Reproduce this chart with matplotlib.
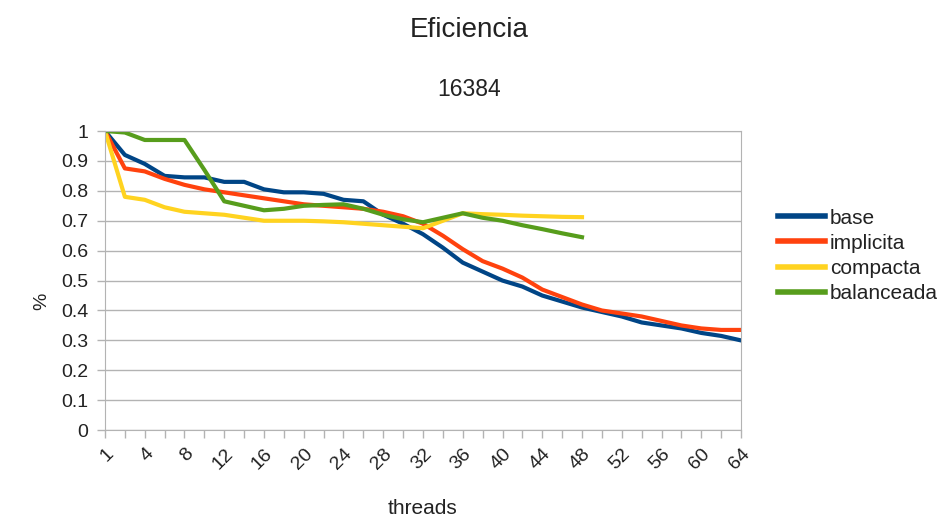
import matplotlib
matplotlib.use("Agg")
import matplotlib.pyplot as plt

plt.rcParams['font.family'] = ['Liberation Sans', 'DejaVu Sans']

# thread counts (categories) and efficiency per variant
threads = [1] + list(range(2, 65, 2))

base = [1.0, 0.92, 0.89, 0.85, 0.845, 0.845, 0.83, 0.83, 0.805, 0.795, 0.795,
        0.79, 0.77, 0.765, 0.72, 0.69, 0.655, 0.61, 0.56, 0.53, 0.50, 0.48,
        0.45, 0.43, 0.41, 0.395, 0.38, 0.36, 0.35, 0.34, 0.325, 0.315, 0.30]
implicita = [1.0, 0.875, 0.865, 0.84, 0.82, 0.805, 0.795, 0.785, 0.775, 0.765,
             0.755, 0.75, 0.745, 0.74, 0.73, 0.715, 0.69, 0.65, 0.605, 0.565,
             0.54, 0.51, 0.47, 0.445, 0.42, 0.40, 0.39, 0.38, 0.365, 0.35,
             0.34, 0.335, 0.335]
compacta = [1.0, 0.78, 0.77, 0.745, 0.73, 0.725, 0.72, 0.71, 0.70, 0.70, 0.70,
            0.698, 0.695, 0.69, 0.685, 0.68, 0.675, 0.70, 0.725, 0.722, 0.72,
            0.717, 0.715, 0.713, 0.712]
balanceada = [1.0, 0.995, 0.97, 0.97, 0.97, 0.87, 0.765, 0.75, 0.735, 0.74,
              0.75, 0.753, 0.755, 0.74, 0.72, 0.705, 0.695, 0.71, 0.725, 0.71,
              0.70, 0.685, 0.672, 0.658, 0.645]

series = [("base", base, "#004586"),
          ("implicita", implicita, "#ff420e"),
          ("compacta", compacta, "#ffd320"),
          ("balanceada", balanceada, "#579d1c")]

fig = plt.figure(figsize=(9.4, 5.17), dpi=100)
ax = fig.add_axes([0.1117, 0.168, 0.6766, 0.5786])

idx = list(range(len(threads)))
for name, vals, col in series:
    ax.plot(idx[:len(vals)], vals, color=col, lw=3, label=name,
            solid_joinstyle="round")

ax.set_xlim(0, len(threads) - 1)
ax.set_ylim(0, 1)
ax.set_yticks([i / 10 for i in range(11)])
ax.set_yticklabels(["0"] + [f"{i/10:g}" for i in range(1, 10)] + ["1"],
                   fontsize=14, color="#222222")
ax.set_xticks(idx)
ax.set_xticklabels([str(t) if i % 2 == 0 else "" for i, t in enumerate(threads)],
                   rotation=45, ha="right", rotation_mode="anchor", fontsize=14,
                   color="#222222")
ax.tick_params(axis="both", color="#b3b3b3", length=6, width=1)
ax.tick_params(axis="y", pad=6)
ax.tick_params(axis="x", direction="out", pad=5)
ax.grid(axis="y", color="#b3b3b3", lw=1)
ax.set_axisbelow(True)
for s in ax.spines.values():
    s.set_color("#b3b3b3")

ax.set_xlabel("threads", fontsize=15, color="#222222", va="center")
ax.xaxis.set_label_coords(0.5, -0.262)
ax.set_ylabel("%", fontsize=14, color="#222222", va="center")
ax.yaxis.set_label_coords(-0.1, 0.43)

fig.text(0.4995, 0.942, "Eficiencia", ha="center", va="center", fontsize=20,
         color="#222222")
fig.text(0.4995, 0.826, "16384", ha="center", va="center", fontsize=16.5,
         color="#222222")

leg = ax.legend(loc="center left", bbox_to_anchor=(778 / 940, 0.505),
                bbox_transform=fig.transFigure, frameon=False, fontsize=15,
                handlelength=2.26, handletextpad=0.24, labelspacing=0.3,
                borderpad=0, borderaxespad=0)
for line in leg.get_lines():
    line.set_linewidth(4)
for t in leg.get_texts():
    t.set_color("#222222")

fig.savefig("out.png", dpi=100)
